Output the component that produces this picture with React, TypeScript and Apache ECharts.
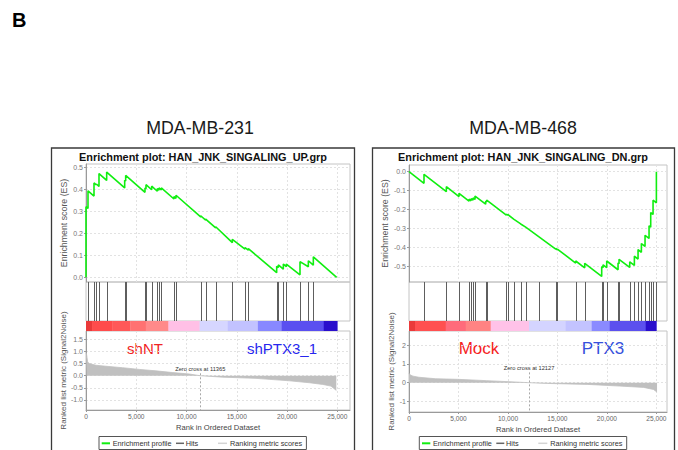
import React, { useEffect, useRef } from 'react';
import * as echarts from 'echarts';

const FONT = '"Liberation Sans", Arial, Helvetica, sans-serif';

// ---------- shared ----------
const rankTicks = [0, 5000, 10000, 15000, 20000, 25000];

// ---------- left panel: MDA-MB-231 ----------
const leftCell = 'MDA-MB-231';
const leftTitle = 'Enrichment plot: HAN_JNK_SINGALING_UP.grp';
const leftPhenotypes = ['shNT', 'shPTX3_1'];
const leftZeroCross = 11365;
const leftEsTicks = [0, 0.1, 0.2, 0.3, 0.4, 0.5];
const leftMetricTicks = [-1, -0.5, 0, 0.5, 1, 1.5];
const leftEs: [number, number][] = [
  [0, 0], [0, 0.32], [199, 0.312], [199, 0.392], [796, 0.368], [796, 0.428], [1028, 0.419], [1028, 0.423],
  [1293, 0.412], [1293, 0.47], [2056, 0.439], [2056, 0.477], [3847, 0.405], [3847, 0.44], [3946, 0.436], [3946, 0.462],
  [5869, 0.385], [5869, 0.405], [5969, 0.401], [5969, 0.42], [6533, 0.397], [6533, 0.413], [7096, 0.39], [7096, 0.402],
  [7262, 0.395], [7262, 0.405], [7494, 0.396], [7494, 0.405], [8754, 0.355], [8754, 0.366], [8953, 0.358], [8953, 0.372],
  [11407, 0.274], [11407, 0.279], [11905, 0.259], [11905, 0.264], [12900, 0.224], [12900, 0.229], [14557, 0.157], [14557, 0.172],
  [15817, 0.128], [15817, 0.135], [16149, 0.123], [16149, 0.13], [18968, 0.021], [18968, 0.05], [19133, 0.044], [19133, 0.056],
  [19630, 0.037], [19630, 0.06], [19929, 0.048], [19929, 0.06], [21289, 0.011], [21289, 0.071], [22118, 0.048], [22118, 0.075],
  [22615, 0.055], [22615, 0.093], [24936, 0],
];
const leftHits = [
  199, 796, 1028, 1293, 2056, 3847, 3946, 5869, 5969, 6533, 7096, 7262, 7494, 8754, 8953, 11407, 11905, 12900,
  14557, 15817, 16149, 18968, 19133, 19630, 19929, 21289, 22118, 22615,
];
const leftMetric: [number, number][] = [
  [0, 0.95], [66, 0.86], [166, 0.57], [332, 0.5], [995, 0.43], [1990, 0.39], [3648, 0.33], [5306, 0.26], [6964, 0.2],
  [8622, 0.13], [10280, 0.07], [11365, 0], [13596, -0.06], [16912, -0.11], [20228, -0.21], [22218, -0.29],
  [23544, -0.36], [24374, -0.43], [24900, -0.61],
];
const leftBarBreaks = [0, 600, 2600, 4400, 5950, 8200, 11300, 14100, 17100, 19450, 23650, 25000];

// ---------- right panel: MDA-MB-468 ----------
const rightCell = 'MDA-MB-468';
const rightTitle = 'Enrichment plot: HAN_JNK_SINGALING_DN.grp';
const rightPhenotypes = ['Mock', 'PTX3'];
const rightZeroCross = 12127;
const rightEsTicks = [0, -0.1, -0.2, -0.3, -0.4, -0.5];
const rightMetricTicks = [-1, 0, 1, 2];
const rightEs: [number, number][] = [
  [0, 0], [1516, -0.061], [1516, -0.014], [3773, -0.105], [3773, -0.079], [5054, -0.131], [5054, -0.114],
  [6064, -0.155], [6064, -0.145], [6266, -0.153], [6266, -0.142], [6468, -0.15], [6468, -0.138], [6671, -0.146], [6671, -0.128],
  [7749, -0.171], [7749, -0.155], [7850, -0.159], [7850, -0.149], [9837, -0.229], [9837, -0.224], [9972, -0.229], [9972, -0.225],
  [10612, -0.251], [10612, -0.248], [11286, -0.275], [11286, -0.272], [11792, -0.292], [11792, -0.289], [13139, -0.343], [13139, -0.34],
  [14824, -0.408], [14824, -0.404], [14992, -0.411], [14992, -0.407], [16845, -0.481], [16845, -0.47], [17755, -0.506], [17755, -0.482],
  [19473, -0.551], [19473, -0.5], [19608, -0.505], [19608, -0.49], [19979, -0.505], [19979, -0.47], [21124, -0.516], [21124, -0.48],
  [21225, -0.484], [21225, -0.461], [22303, -0.504], [22303, -0.474], [22774, -0.493], [22774, -0.445], [23145, -0.46], [23145, -0.41],
  [23482, -0.424], [23482, -0.378], [23852, -0.393], [23852, -0.335], [24257, -0.351], [24257, -0.285], [24425, -0.292], [24425, -0.215],
  [24661, -0.225], [24661, -0.15], [24998, -0.164], [24998, 0],
];
const rightHits = [
  1516, 3773, 5054, 6064, 6266, 6468, 6671, 7749, 7850, 9837, 9972, 10612, 11286, 11792, 13139, 14824, 14992, 16845,
  17755, 19473, 19608, 19979, 21124, 21225, 22303, 22774, 23145, 23482, 23852, 24257, 24425, 24661, 24998,
];
const rightMetric: [number, number][] = [
  [0, 0.5], [100, 0.42], [400, 0.35], [1000, 0.29], [2700, 0.21], [4900, 0.18], [7800, 0.11], [10200, 0.05],
  [12127, 0], [14000, -0.04], [18000, -0.09], [21300, -0.18], [23700, -0.25], [24700, -0.36], [25065, -0.5],
];
const rightBarBreaks = [0, 606, 3709, 5729, 8256, 12127, 15835, 18462, 20281, 23920, 25000];

// ---------- styles ----------
const leftBarColors = ['#ea3a3a', '#ff4c4c', '#ff5858', '#ff7272', '#ff8a8a', '#ffc0e6', '#d6d6ff', '#c2c2ff', '#8888ff', '#5a4ff0', '#2a0fcc'];
const rightBarColors = ['#ea3a3a', '#ff5050', '#ff6b7b', '#ff8383', '#ffc2e8', '#d4d4ff', '#c3c3ff', '#8a8aff', '#5c50ee', '#2a0fcc'];

type Layout = {
  left: number; width: number; xMax: number;
  esTop: number; esH: number; esMin: number; esMax: number;
  rankTop: number; rankH: number; rMin: number; rMax: number;
  esGap: number; rankGap: number;
};

const LL: Layout = {
  left: 86, width: 264, xMax: 26263,
  esTop: 164, esH: 118, esMin: -0.0213, esMax: 0.5136,
  rankTop: 331, rankH: 79, rMin: -1.417, rMax: 1.847,
  esGap: 17.6, rankGap: 18,
};
const RL: Layout = {
  left: 409, width: 258, xMax: 26071,
  esTop: 165, esH: 117, esMin: -0.5805, esMax: 0.0353,
  rankTop: 331, rankH: 81, rMin: -1.563, rMax: 2.757,
  esGap: 19.6, rankGap: 13.3,
};

function buildPanel(
  L: Layout, base: number, es: [number, number][], hits: number[], metric: [number, number][],
  breaks: number[], colors: string[], esTicks: number[], metricTicks: number[], zero: number,
  esFmt: (v: number) => string, mFmt: (v: number) => string, zeroStart: number,
) {
  const grids = [
    { left: L.left, top: L.esTop, width: L.width, height: L.esH },
    { left: L.left, top: L.esTop + L.esH, width: L.width, height: 321 - (L.esTop + L.esH) },
    { left: L.left, top: 321, width: L.width, height: 10 },
    { left: L.left, top: L.rankTop, width: L.width, height: L.rankH },
  ].map((g, i) => ({ ...g, show: i !== 2, borderColor: '#c4c4c4', borderWidth: 1, backgroundColor: 'transparent' }));

  const gridLine = { show: true, lineStyle: { color: '#e2e2e2', type: [2, 2] as number[], width: 1 } };
  const xAxes = [0, 1, 2, 3].map((i) => {
    const show = i === 3;
    return {
      type: 'value', gridIndex: base + i, min: 0, max: L.xMax,
      axisLine: { show: show, onZero: false, lineStyle: { color: '#9a9a9a', width: 1 } },
      axisTick: { show, length: 2, customValues: rankTicks, lineStyle: { color: '#9a9a9a' } },
      axisLabel: {
        show, customValues: rankTicks, fontSize: 6.6, color: '#666', margin: 3, fontFamily: FONT,
        formatter: (v: number) => v.toLocaleString('en-US'),
      },
      splitLine: { ...gridLine, show: i === 0 || i === 3 },
      name: show ? 'Rank in Ordered Dataset' : '',
      nameLocation: 'middle', nameGap: 13,
      nameTextStyle: { fontSize: 7.6, color: '#444', fontFamily: FONT },
    };
  });
  const yAxes = [
    {
      type: 'value', gridIndex: base, min: L.esMin, max: L.esMax,
      axisLine: { show: true, onZero: false, lineStyle: { color: '#9a9a9a' } },
      axisTick: { show: true, length: 2, customValues: esTicks, lineStyle: { color: '#9a9a9a' } },
      axisLabel: { customValues: esTicks, fontSize: 7, color: '#777', margin: 3, fontFamily: FONT, formatter: esFmt },
      splitLine: gridLine,
      name: 'Enrichment score (ES)', nameLocation: 'middle', nameGap: L.esGap,
      nameTextStyle: { fontSize: 8.8, color: '#555', fontFamily: FONT },
    },
    { type: 'value', gridIndex: base + 1, min: 0, max: 1, show: false },
    { type: 'value', gridIndex: base + 2, min: 0, max: 1, show: false },
    {
      type: 'value', gridIndex: base + 3, min: L.rMin, max: L.rMax,
      axisLine: { show: true, onZero: false, lineStyle: { color: '#9a9a9a' } },
      axisTick: { show: true, length: 2, customValues: metricTicks, lineStyle: { color: '#9a9a9a' } },
      axisLabel: { customValues: metricTicks, fontSize: 7, color: '#777', margin: 3, fontFamily: FONT, formatter: mFmt },
      splitLine: gridLine,
      name: 'Ranked list metric (Signal2Noise)', nameLocation: 'middle', nameGap: L.rankGap,
      nameTextStyle: { fontSize: 8, color: '#555', fontFamily: FONT },
    },
  ];

  const segs = breaks.slice(0, -1).map((b, i) => [b, breaks[i + 1]]);
  const series = [
    {
      type: 'line', xAxisIndex: base, yAxisIndex: base, data: es, showSymbol: false, symbol: 'none',
      lineStyle: { color: '#10ee10', width: 1.6 }, silent: true, z: 5,
    },
    {
      type: 'custom', coordinateSystem: 'cartesian2d', xAxisIndex: base + 1, yAxisIndex: base + 1,
      data: hits.map((h) => [h, 0]), encode: { x: 0, y: 1 }, silent: true,
      renderItem: (params: any, api: any) => {
        const x = api.coord([api.value(0), 0])[0];
        const cs = params.coordSys;
        return {
          type: 'line',
          shape: { x1: Math.round(x) + 0.5, y1: cs.y, x2: Math.round(x) + 0.5, y2: cs.y + cs.height },
          style: { stroke: '#5e5e5e', lineWidth: 1 },
        };
      },
    },
    {
      type: 'custom', coordinateSystem: 'cartesian2d', xAxisIndex: base + 2, yAxisIndex: base + 2,
      data: segs, encode: { x: [0, 1] }, silent: true,
      renderItem: (params: any, api: any) => {
        const p0 = api.coord([api.value(0), 1]);
        const p1 = api.coord([api.value(1), 0]);
        return {
          type: 'rect',
          shape: { x: p0[0], y: p0[1], width: p1[0] - p0[0] + 0.3, height: p1[1] - p0[1] },
          style: { fill: colors[params.dataIndex] },
        };
      },
    },
    {
      type: 'line', xAxisIndex: base + 3, yAxisIndex: base + 3, data: metric, showSymbol: false, symbol: 'none',
      lineStyle: { color: '#c0c0c0', width: 0.8 }, areaStyle: { color: '#c0c0c0', opacity: 1 }, silent: true,
      markLine: {
        silent: true, symbol: ['none', 'none'], animation: false,
        lineStyle: { color: '#a8a8a8', type: [2, 2], width: 1 },
        label: {
          show: true, position: 'start', formatter: `Zero cross at ${zero}`, fontSize: 5.7,
          color: '#333', distance: 1, fontFamily: FONT,
        },
        data: [[{ coord: [zero, zeroStart] }, { coord: [zero, L.rMin] }]],
      },
    },
  ];
  return { grids, xAxes, yAxes, series };
}

function legend(x0: number) {
  const y = 443.3;
  const t = (text: string, x: number) => ({
    type: 'text', style: { text, x, y, fill: '#333', font: `7.3px ${FONT}`, align: 'left', verticalAlign: 'middle' },
  });
  const l = (x1: number, x2: number, stroke: string, w: number) => ({
    type: 'line', shape: { x1, y1: y, x2, y2: y }, style: { stroke, lineWidth: w },
  });
  return [
    { type: 'rect', shape: { x: x0, y: 436.5, width: 207.4, height: 13 }, style: { fill: '#fff', stroke: '#555', lineWidth: 1 } },
    l(x0 + 2.7, x0 + 11, '#10ee10', 2), t('Enrichment profile', x0 + 13.7),
    l(x0 + 77, x0 + 85, '#666', 1.5), t('Hits', x0 + 86.7),
    l(x0 + 119, x0 + 128, '#d4d4d4', 1.5), t('Ranking metric scores', x0 + 131),
  ];
}

export default function App() {
  const ref = useRef<HTMLDivElement>(null);
  useEffect(() => {
    if (!ref.current) return;
    const chart = echarts.init(ref.current, undefined, { renderer: 'svg' });
    const f1 = (v: number) => v.toFixed(1);
    const f0 = (v: number) => v.toFixed(0);
    const A = buildPanel(LL, 0, leftEs, leftHits, leftMetric, leftBarBreaks, leftBarColors, leftEsTicks,
      leftMetricTicks, leftZeroCross, f1, f1, 0.1);
    const B = buildPanel(RL, 4, rightEs, rightHits, rightMetric, rightBarBreaks, rightBarColors, rightEsTicks,
      rightMetricTicks, rightZeroCross, f1, f0, 0.55);
    const txt = (text: string, x: number, y: number, font: string, fill: string) => ({
      type: 'text', style: { text, x, y, font, fill, align: 'center', verticalAlign: 'middle' },
    });
    chart.setOption({
      animation: false,
      backgroundColor: '#ffffff',
      textStyle: { fontFamily: FONT },
      grid: [...A.grids, ...B.grids],
      xAxis: [...A.xAxes, ...B.xAxes],
      yAxis: [...A.yAxes, ...B.yAxes],
      series: [...A.series, ...B.series],
      graphic: [
        { type: 'text', style: { text: 'B', x: 12, y: 19.5, font: `bold 20px ${FONT}`, fill: '#000', align: 'left', verticalAlign: 'middle' } },
        txt(leftCell, 200, 127.5, `17.8px ${FONT}`, '#1a1a1a'),
        txt(rightCell, 523, 127.5, `17.8px ${FONT}`, '#1a1a1a'),
        { type: 'rect', shape: { x: 51.5, y: 148, width: 303, height: 320 }, style: { fill: 'none', stroke: '#3a3a3a', lineWidth: 1.3 } },
        { type: 'rect', shape: { x: 372.5, y: 148, width: 302, height: 320 }, style: { fill: 'none', stroke: '#3a3a3a', lineWidth: 1.3 } },
        txt(leftTitle, 203, 156.5, `bold 10.9px ${FONT}`, '#111'),
        txt(rightTitle, 523, 156.5, `bold 10.9px ${FONT}`, '#111'),
        txt(leftPhenotypes[0], 145, 348, `15px ${FONT}`, '#f02424'),
        txt(leftPhenotypes[1], 282, 348, `15px ${FONT}`, '#2626ee'),
        txt(rightPhenotypes[0], 479, 348, `17px ${FONT}`, '#f52222'),
        txt(rightPhenotypes[1], 603, 348, `17px ${FONT}`, '#3550dc'),
        ...legend(99),
        ...legend(419.3),
      ],
    });
    return () => chart.dispose();
  }, []);
  return <div ref={ref} style={{ position: 'absolute', left: 0, top: 0, width: 678, height: 450 }} />;
}
